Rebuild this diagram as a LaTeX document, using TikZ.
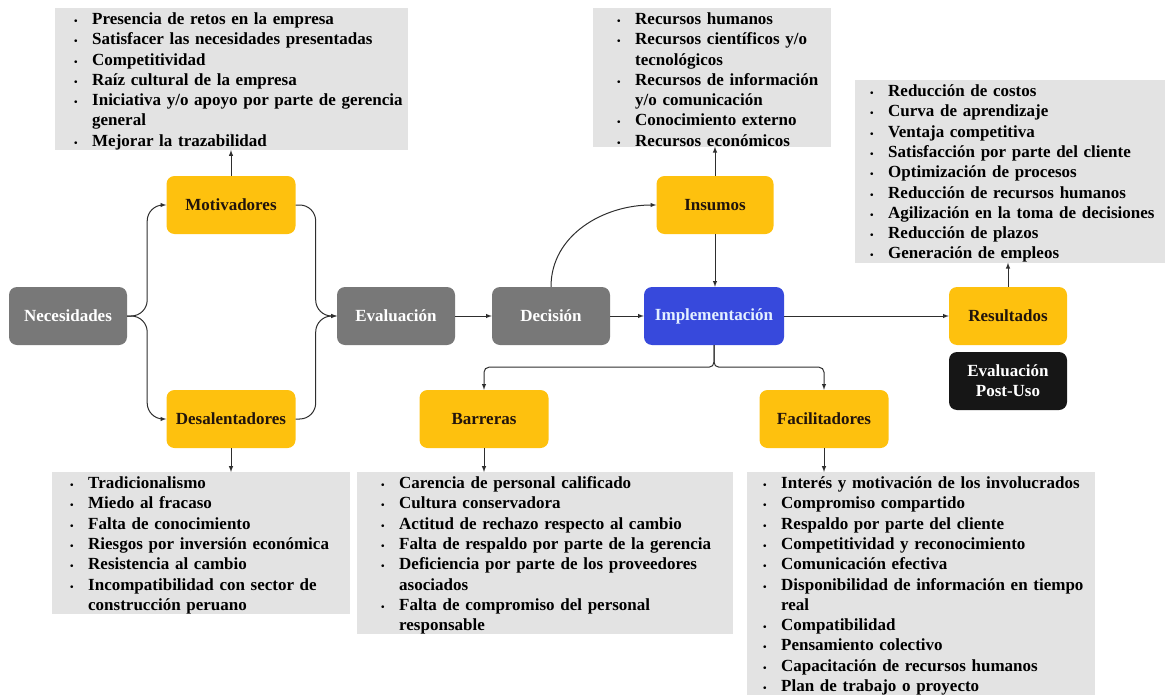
\documentclass[tikz,border=0pt]{standalone}
\usepackage{fontspec}
\setmainfont{Liberation Serif}
\usetikzlibrary{positioning,arrows}

\definecolor{stagegrey}{HTML}{787878}
\definecolor{boxgold}{HTML}{FEC10E}
\definecolor{goldtext}{HTML}{21140C}
\definecolor{implblue}{HTML}{3749DC}
\definecolor{impltext}{HTML}{E4F0FF}
\definecolor{postblack}{HTML}{161616}
\definecolor{listgrey}{HTML}{E3E3E3}
\definecolor{linegrey}{HTML}{2E2E2E}

\newcommand{\blt}{{\fontsize{10}{10}\selectfont\textbullet}}
\newcommand{\itm}[1]{\par\noindent\makebox[18pt][l]{\blt}\mbox{#1}}
\newcommand{\cnt}[1]{\par\noindent\hspace*{18pt}\mbox{#1}}

\tikzset{
	stage/.style={rounded corners=8pt, minimum height=58pt, inner sep=2pt, align=center,
		font=\fontsize{17}{20}\selectfont\bfseries},
	greystage/.style={stage, fill=stagegrey, text=white, minimum width=118pt},
	goldstage/.style={stage, fill=boxgold, text=goldtext, minimum width=129pt},
	itemlist/.style={fill=listgrey, anchor=north west, inner ysep=0pt, align=left,
		font=\fontsize{17}{20.3}\selectfont\bfseries,
		execute at begin node={\vspace*{-4pt}}},
	flow/.style={-latex, line width=1pt, draw=linegrey},
}

\begin{document}
\begin{tikzpicture}[x=1pt, y=-1pt]
	\useasboundingbox (0,0) rectangle (1168,696);
	% main stages
	\node[greystage] (nec) at (68,316) {Necesidades};
	\node[goldstage] (mot) at (231,205) {Motivadores};
	\node[goldstage] (des) at (231,419) {Desalentadores};
	\node[greystage] (eva) at (396,316) {Evaluación};
	\node[greystage] (dec) at (551,316) {Decisión};
	\node[stage, fill=implblue, text=impltext, minimum width=140pt] (imp) at (714,316) {Implementación};
	\node[goldstage, minimum width=117pt] (ins) at (715,205) {Insumos};
	\node[goldstage, minimum width=118pt] (res) at (1008,316) {Resultados};
	\node[stage, fill=postblack, text=white, minimum width=118pt] (post) at (1008,381) {Evaluación\\Post-Uso};
	\node[goldstage] (bar) at (484,419) {Barreras};
	\node[goldstage] (fac) at (824,419) {Facilitadores};
	% lists
	\node[itemlist, inner xsep=19pt, text width=315pt] (motlist) at (55,8) {%
		\itm{Presencia de retos en la empresa}
		\itm{Satisfacer las necesidades presentadas}
		\itm{Competitividad}
		\itm{Raíz cultural de la empresa}
		\itm{Iniciativa y/o apoyo por parte de gerencia}
		\cnt{general}
		\itm{Mejorar la trazabilidad}};
	\node[itemlist, inner xsep=24pt, text width=190pt] (inslist) at (593,8) {%
		\itm{Recursos humanos}
		\itm{Recursos científicos y/o}
		\cnt{tecnológicos}
		\itm{Recursos de información}
		\cnt{y/o comunicación}
		\itm{Conocimiento externo}
		\itm{Recursos económicos}};
	\node[itemlist, inner xsep=15pt, text width=280pt] (reslist) at (855,80) {%
		\itm{Reducción de costos}
		\itm{Curva de aprendizaje}
		\itm{Ventaja competitiva}
		\itm{Satisfacción por parte del cliente}
		\itm{Optimización de procesos}
		\itm{Reducción de recursos humanos}
		\itm{Agilización en la toma de decisiones}
		\itm{Reducción de plazos}
		\itm{Generación de empleos}};
	\node[itemlist, inner xsep=18pt, text width=262pt] (deslist) at (52,472) {%
		\itm{Tradicionalismo}
		\itm{Miedo al fracaso}
		\itm{Falta de conocimiento}
		\itm{Riesgos por inversión económica}
		\itm{Resistencia al cambio}
		\itm{Incompatibilidad con sector de}
		\cnt{construcción peruano}};
	\node[itemlist, inner xsep=24pt, text width=328pt] (barlist) at (357,472) {%
		\itm{Carencia de personal calificado}
		\itm{Cultura conservadora}
		\itm{Actitud de rechazo respecto al cambio}
		\itm{Falta de respaldo por parte de la gerencia}
		\itm{Deficiencia por parte de los proveedores}
		\cnt{asociados}
		\itm{Falta de compromiso del personal}
		\cnt{responsable}};
	\node[itemlist, inner xsep=16pt, text width=316pt] (faclist) at (747,472) {%
		\itm{Interés y motivación de los involucrados}
		\itm{Compromiso compartido}
		\itm{Respaldo por parte del cliente}
		\itm{Competitividad y reconocimiento}
		\itm{Comunicación efectiva}
		\itm{Disponibilidad de información en tiempo}
		\cnt{real}
		\itm{Compatibilidad}
		\itm{Pensamiento colectivo}
		\itm{Capacitación de recursos humanos}
		\itm{Plan de trabajo o proyecto}};
	% connectors
	\draw[flow, rounded corners=16pt] (nec.east) -- ++(20,0) |- (mot.west);
	\draw[flow, rounded corners=16pt] (nec.east) -- ++(20,0) |- (des.west);
	\draw[flow, rounded corners=16pt] (mot.east) -- ++(20,0) |- (eva.west);
	\draw[flow, rounded corners=16pt] (des.east) -- ++(20,0) |- (eva.west);
	\draw[flow] (eva.east) -- (dec.west);
	\draw[flow] (dec.east) -- (imp.west);
	\draw[flow] (dec.north) to[out=90,in=180] (ins.west);
	\draw[flow] (ins.south) -- (ins.south |- imp.north);
	\draw[flow] (imp.east) -- (res.west);
	\draw[flow, rounded corners=5pt] (imp.south) -- ++(0,22) -| (bar.north);
	\draw[flow, rounded corners=5pt] (imp.south) -- ++(0,22) -| (fac.north);
	\draw[flow] (mot.north) -- (mot.north |- motlist.south);
	\draw[flow] (ins.north) -- (ins.north |- inslist.south);
	\draw[flow] (res.north) -- (res.north |- reslist.south);
	\draw[flow] (des.south) -- (des.south |- deslist.north);
	\draw[flow] (bar.south) -- (bar.south |- barlist.north);
	\draw[flow] (fac.south) -- (fac.south |- faclist.north);
\end{tikzpicture}
\end{document}
